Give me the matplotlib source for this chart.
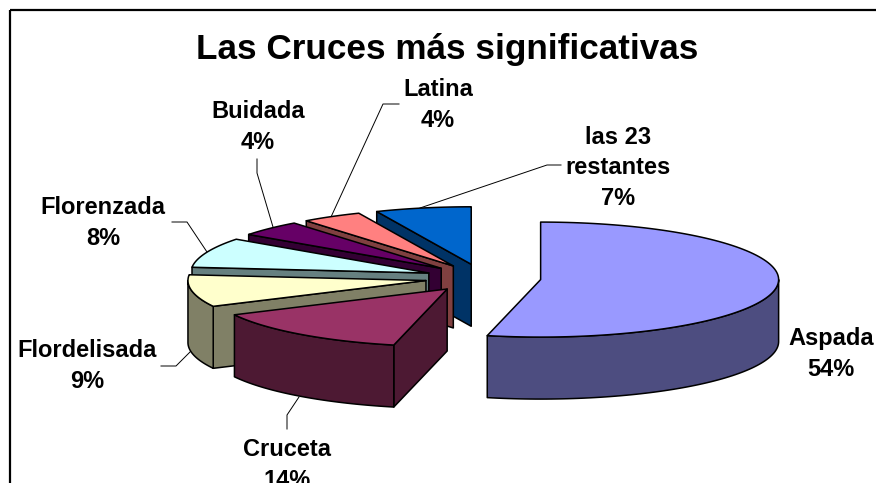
import numpy as np
import matplotlib
matplotlib.use('Agg')
import matplotlib.pyplot as plt

plt.rcParams['font.family'] = ['Liberation Sans', 'DejaVu Sans']

# data, going clockwise from 12 o'clock
names = ['Aspada', 'Cruceta', 'Flordelisada', 'Florenzada', 'Buidada', 'Latina', 'las 23\nrestantes']
values = [53.6, 14.0, 9.0, 8.4, 4.4, 4.1, 6.5]
pct_labels = ['54%', '14%', '9%', '8%', '4%', '4%', '7%']

top_colors = ['#9999FF', '#993366', '#FFFFCC', '#CCFFFF', '#660066', '#FF8080', '#0066CC']
side_colors = ['#4D4D80', '#4D1933', '#808066', '#668080', '#330033', '#804040', '#003366']

# where the labels sit and their leader lines, in pixels of the picture
label_pos = [(831, 354), (287, 465), (87, 366), (103, 223), (258, 127), (438, 105), (618, 168)]
leaders = [None,
           [(287, 429), (287, 415), (299, 397)],
           [(161, 366), (176, 366), (191, 351)],
           [(172, 222), (187, 222), (207, 252)],
           [(257, 159), (257, 173), (273, 227)],
           [(399, 104), (383, 104), (331, 217)],
           [(561, 165), (547, 165), (420, 208)]]

# pie shape
cx, cy = 483, 278
a, b = 238, 57.5
depth = 62
explode_x, explode_y = 58, 14

fig = plt.figure(figsize=(8.76, 4.83), dpi=100)
ax = fig.add_axes([0, 0, 1, 1])
ax.set_xlim(0, 876)
ax.set_ylim(483, 0)
ax.axis('off')


def rim(x0, y0, t):
    return x0 + a * np.sin(t), y0 - b * np.cos(t)


def poly(xs, ys, color, z):
    ax.fill(xs, ys, facecolor=color, edgecolor='black', lw=1.1, joinstyle='round', zorder=z)


edges = np.radians(np.concatenate([[0], np.cumsum(values)]) * 3.6)

# back slices first so the front ones cover them
for i in range(len(values) - 1, -1, -1):
    t0, t1 = edges[i], edges[i + 1]
    mid = (t0 + t1) / 2
    x0 = cx + explode_x * np.sin(mid)
    y0 = cy - explode_y * np.cos(mid)
    z = 10 + (len(values) - i)

    # flat cut faces
    for t, visible in ((t0, np.sin(t0) < -1e-6), (t1, np.sin(t1) > 1e-6)):
        if visible:
            px, py = rim(x0, y0, t)
            poly([x0, px, px, x0], [y0, py, py + depth, y0 + depth], side_colors[i], z)

    # outer wall, only the part facing us
    w0, w1 = max(t0, np.pi / 2), min(t1, 3 * np.pi / 2)
    if w1 > w0:
        ts = np.linspace(w0, w1, 80)
        px, py = rim(x0, y0, ts)
        poly(np.r_[px, px[::-1]], np.r_[py, py[::-1] + depth], side_colors[i], z)

    # top
    ts = np.linspace(t0, t1, 120)
    px, py = rim(x0, y0, ts)
    poly(np.r_[x0, px], np.r_[y0, py], top_colors[i], z)

for pts in leaders:
    if pts is not None:
        ax.plot([p[0] for p in pts], [p[1] for p in pts], color='black', lw=0.7, zorder=5)

for name, pct, pos in zip(names, pct_labels, label_pos):
    ax.text(pos[0], pos[1], name + '\n' + pct, ha='center', va='center', fontsize=17,
            fontweight='bold', linespacing=1.43, zorder=30)

ax.text(447, 50, 'Las Cruces más significativas', ha='center', va='center', fontsize=25.3,
        fontweight='bold', zorder=30)

# chart border, only top and left are inside the crop
ax.plot([9.5, 876], [10, 10], color='black', lw=1.6, zorder=40, solid_capstyle='butt')
ax.plot([9.5, 9.5], [10, 483], color='black', lw=1.6, zorder=40, solid_capstyle='butt')

fig.savefig('out.png', dpi=100)
